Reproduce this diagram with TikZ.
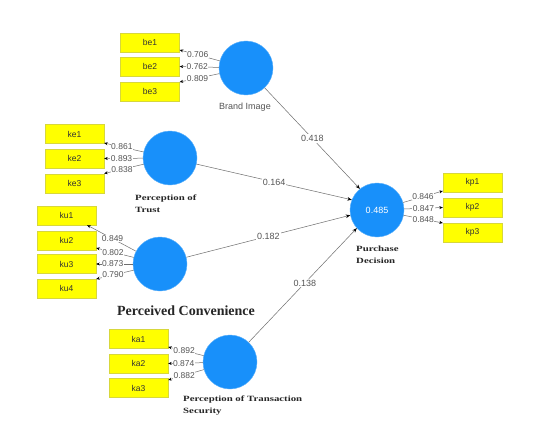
\documentclass[tikz,border=0pt]{standalone}
\usepackage{fontspec}
\setmainfont{Liberation Serif}
\setsansfont{Liberation Sans}
\newfontfamily\wideserif[FakeStretch=1.35]{Liberation Serif}
\usetikzlibrary{arrows.meta}
\definecolor{plsblue}{RGB}{24,144,250}
\definecolor{plsyellow}{RGB}{255,255,0}
\definecolor{plsborder}{RGB}{215,215,60}
\definecolor{edgegray}{RGB}{110,110,110}
\definecolor{labgray}{RGB}{85,85,85}
\tikzset{
  construct/.style={circle,fill=plsblue,draw=plsblue!70!white,line width=0.4pt,minimum size=54pt,inner sep=0pt,text=white,font=\sffamily\fontsize{9}{10}\selectfont},
  indic/.style={rectangle,fill=plsyellow,draw=plsborder,line width=0.4pt,minimum width=59pt,minimum height=19pt,inner sep=0pt,font=\sffamily\fontsize{8.5}{9}\selectfont,text=black!80},
  load/.style={draw=edgegray,line width=0.5pt,-{Stealth[length=3.5pt,width=3pt,black]}},
  path/.style={draw=edgegray,line width=0.5pt,-{Stealth[length=4.5pt,width=3.5pt,black]}},
  lval/.style={fill=white,inner sep=0.5pt,text=labgray,font=\sffamily\fontsize{8.5}{9}\selectfont},
  pval/.style={fill=white,inner sep=1pt,text=labgray,font=\sffamily\fontsize{9}{10}\selectfont},
  bname/.style={font=\wideserif\bfseries\fontsize{8}{12}\selectfont,align=left,text=black!85,inner sep=0pt},
}
\begin{document}
\begin{tikzpicture}[x=1pt,y=-1pt]
\fill[white] (0,0) rectangle (553,425);
\useasboundingbox (0,0) rectangle (553,425);
% constructs
\node[construct] (bi) at (246,68) {};
\node[construct] (pt) at (170,158) {};
\node[construct] (pc) at (160,264) {};
\node[construct] (ts) at (230,362) {};
\node[construct] (pd) at (377,210) {0.485};
% indicators
\node[indic] (be1) at (150,42.5) {be1};
\node[indic] (be2) at (150,66.5) {be2};
\node[indic] (be3) at (150,91.5) {be3};
\node[indic] (ke1) at (74.5,134) {ke1};
\node[indic] (ke2) at (74.5,158.5) {ke2};
\node[indic] (ke3) at (74.5,183.5) {ke3};
\node[indic] (ku1) at (66.5,215.5) {ku1};
\node[indic] (ku2) at (66.5,240.5) {ku2};
\node[indic] (ku3) at (66.5,264) {ku3};
\node[indic] (ku4) at (66.5,288.5) {ku4};
\node[indic] (ka1) at (138.5,339) {ka1};
\node[indic] (ka2) at (138.5,363.5) {ka2};
\node[indic] (ka3) at (138.5,388) {ka3};
\node[indic] (kp1) at (472.5,182.5) {kp1};
\node[indic] (kp2) at (472.5,207.5) {kp2};
\node[indic] (kp3) at (472.5,232.5) {kp3};
% construct labels
\node[font=\sffamily\fontsize{9}{10}\selectfont,text=labgray] (lbi) at (245,107) {Brand Image};
\node[bname,anchor=north west] (lpt) at (135,195) {Perception of\\Trust};
\node[font=\bfseries\fontsize{14}{16}\selectfont,text=black!85] (lpc) at (186,311) {Perceived Convenience};
\node[bname,anchor=north west] (lts) at (183,396) {Perception of Transaction\\Security};
\node[bname,anchor=north west] (lpd) at (356,246) {Purchase\\Decision};
% loadings
\draw[load] (bi) -- node[lval,pos=0.55] {0.706} ([yshift=-7.5pt]be1.east);
\draw[load] (bi) -- node[lval,pos=0.55] {0.762} (be2.east);
\draw[load] (bi) -- node[lval,pos=0.55] {0.809} ([yshift=9.5pt]be3.east);
\draw[load] (pt) -- node[lval,pos=0.55] {0.861} ([yshift=-9pt]ke1.east);
\draw[load] (pt) -- node[lval,pos=0.55] {0.893} (ke2.east);
\draw[load] (pt) -- node[lval,pos=0.55] {0.838} ([yshift=10pt]ke3.east);
\draw[load] (pc) -- node[lval,pos=0.48] {0.849} ([xshift=-9pt]ku1.south east);
\draw[load] (pc) -- node[lval,pos=0.55] {0.802} ([yshift=-7.5pt]ku2.east);
\draw[load] (pc) -- node[lval,pos=0.55] {0.873} (ku3.east);
\draw[load] (pc) -- node[lval,pos=0.55] {0.790} ([yshift=9.5pt]ku4.east);
\draw[load] (ts) -- node[lval,pos=0.55] {0.892} ([yshift=-8pt]ka1.east);
\draw[load] (ts) -- node[lval,pos=0.55] {0.874} (ka2.east);
\draw[load] (ts) -- node[lval,pos=0.55] {0.882} ([yshift=8pt]ka3.east);
\draw[load] (pd) -- node[lval,pos=0.5] {0.846} ([yshift=-8.5pt]kp1.west);
\draw[load] (pd) -- node[lval,pos=0.5] {0.847} (kp2.west);
\draw[load] (pd) -- node[lval,pos=0.5] {0.848} ([yshift=9.5pt]kp3.west);
% paths
\draw[path] (bi) -- node[pval,pos=0.5] {0.418} (pd.129);
\draw[path] (pt) -- node[pval,pos=0.5] {0.164} (pd.158);
\draw[path] (pc) -- node[pval,pos=0.5] {0.182} (pd.191);
\draw[path] (ts) -- node[pval,pos=0.52] {0.138} (pd.222);
\end{tikzpicture}
\end{document}
